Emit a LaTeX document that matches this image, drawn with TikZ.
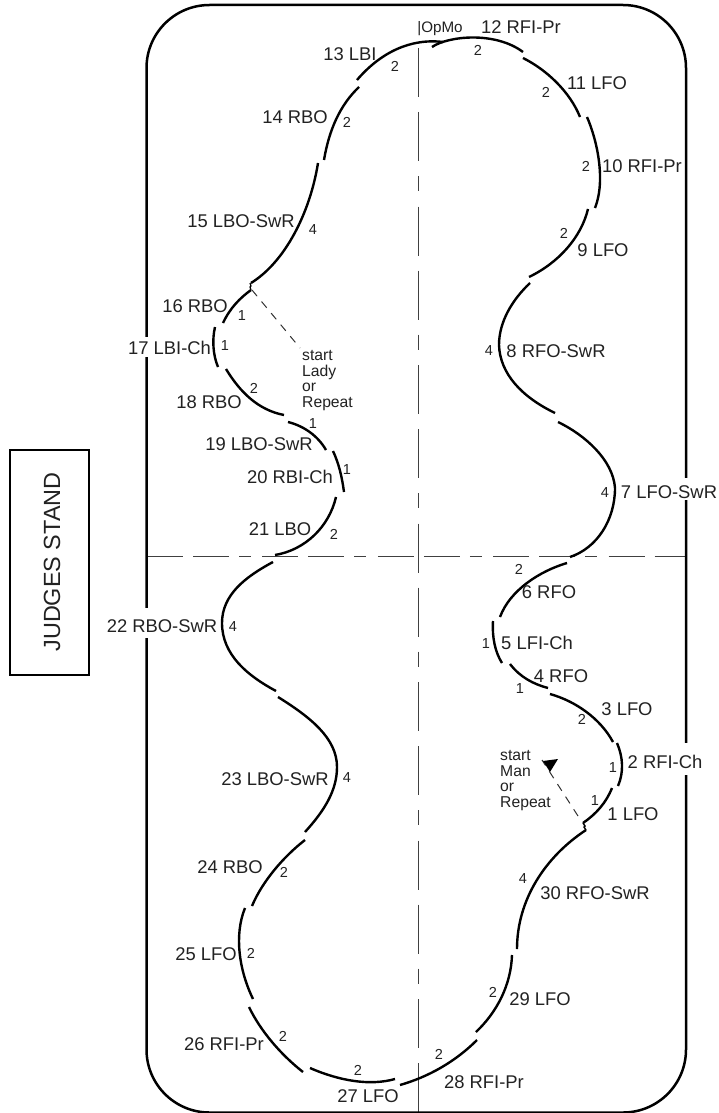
\documentclass[tikz,border=0pt]{standalone}
\usepackage{fontspec}
\setmainfont{Liberation Sans}
\definecolor{ink}{HTML}{222222}
\tikzset{
  rinkline/.style={line width=2.5pt,black},
  axisline/.style={line width=1.2pt,color=black!75},
  edgeline/.style={line width=2.4pt,black},
  leadline/.style={line width=1pt,color=black!80,dash pattern=on 8pt off 7pt},
  lab/.style={anchor=base,inner sep=0pt,text=ink,font=\fontsize{18.4}{18}\selectfont,yshift=-6.5pt},
  beat/.style={anchor=base,inner sep=0pt,text=ink,font=\fontsize{14.5}{14}\selectfont,yshift=-5.2pt},
  note/.style={anchor=north west,inner sep=0pt,align=left,text=ink,font=\fontsize{15.7}{15.8}\selectfont},
  gapmask/.style={fill=white,draw=none}
}
\begin{document}
\begin{tikzpicture}[x=1pt,y=-1pt]
\useasboundingbox (0,0) rectangle (719,1113);
\fill[white] (0,0) rectangle (719,1113);
% centre axes
\draw[axisline,dash pattern=on 49pt off 15pt on 49pt off 15pt on 15pt off 15.5pt] (418.5,48) -- (418.5,1113);
\draw[axisline,dash pattern=on 36pt off 10pt on 36pt off 10pt on 12pt off 11.4pt] (147,556.5) -- (686,556.5);
% rink
\draw[rinkline,rounded corners=63pt] (146.5,5) rectangle (686,1112.5);
\fill[gapmask] (140,337) rectangle (153,357);
\fill[gapmask] (680,478) rectangle (692,500);
\fill[gapmask] (680,743) rectangle (692,775);
\fill[gapmask] (140,608) rectangle (153,638);
% judges stand
\node[draw=black,line width=2.5pt,minimum width=79pt,minimum height=225pt,inner sep=0pt] (stand) at (49.5,562.5) {};
\node[rotate=90,inner sep=0pt,text=ink,font=\fontsize{23.4}{24}\selectfont] (standtext) at (52,562) {JUDGES STAND};
% steps
\draw[edgeline] (357,80) .. controls (380,53) and (410,38) .. (443,42);
\draw[edgeline] (432,47) .. controls (448,36) and (495,31) .. (523,52);
\draw[edgeline] (523,58) .. controls (547,70) and (570,92) .. (580,117);
\draw[edgeline] (587,117) .. controls (597,140) and (606,180) .. (595,208);
\draw[edgeline] (588,209) .. controls (581,238) and (558,263) .. (529,277);
\draw[edgeline] (530,283) .. controls (512,300) and (499,322) .. (499,345) .. controls (500,374) and (522,397) .. (555,413);
\draw[edgeline] (558,422) .. controls (585,435) and (613,460) .. (615,488) .. controls (615,520) and (597,548) .. (570,557);
\draw[edgeline] (567,563) .. controls (540,571) and (510,590) .. (500,617);
\draw[edgeline] (493,621) .. controls (492,637) and (495,652) .. (502,663);
\draw[edgeline] (510,664) .. controls (520,677) and (533,684) .. (548,688);
\draw[edgeline] (550,694) .. controls (575,701) and (600,718) .. (613,742);
\draw[edgeline] (617,743) .. controls (623,757) and (624,772) .. (618,786);
\draw[edgeline] (612,788) .. controls (606,803) and (596,814) .. (583,823);
\draw[line width=1.4pt] (583,823) -- (585,826) -- (584,827) -- (586,830);
\draw[edgeline] (586,830) .. controls (545,857) and (517,900) .. (517,949);
\draw[edgeline] (512,955) .. controls (511,985) and (497,1012) .. (476,1032);
\draw[edgeline] (477,1040) .. controls (455,1062) and (428,1077) .. (400,1085);
\draw[edgeline] (395,1079) .. controls (370,1086) and (340,1081) .. (310,1068);
\draw[edgeline] (303,1072) .. controls (280,1054) and (260,1030) .. (249,1007);
\draw[edgeline] (253,999) .. controls (239,970) and (234,935) .. (245,908);
\draw[edgeline] (252,906) .. controls (262,882) and (283,857) .. (305,840);
\draw[edgeline] (305,832) .. controls (325,810) and (337,790) .. (337,767) .. controls (337,738) and (310,717) .. (278,697);
\draw[edgeline] (276,691) .. controls (248,676) and (222,655) .. (222,623) .. controls (222,595) and (245,577) .. (273,562);
\draw[edgeline] (275,555) .. controls (305,550) and (329,527) .. (336,497);
\draw[edgeline] (344,492) .. controls (342,477) and (339,464) .. (333,451);
\draw[edgeline] (326,450) .. controls (318,436) and (304,426) .. (288,422);
\draw[edgeline] (284,415) .. controls (258,410) and (240,392) .. (226,369);
\draw[edgeline] (218,367) .. controls (213,355) and (212,340) .. (215,327);
\draw[edgeline] (223,323) .. controls (230,308) and (240,298) .. (251,290);
\draw[line width=1.2pt] (251,290) -- (250,287) -- (251,286) -- (250,283);
\draw[edgeline] (251,283) .. controls (285,262) and (310,213) .. (318,163);
\draw[edgeline] (324,160) .. controls (329,130) and (340,105) .. (359,87);
% start leaders
\coordinate (ladyfrom) at (252,290);
\coordinate (ladyto) at (300,348);
\draw[leadline] (ladyfrom) -- (ladyto);
\coordinate (manfrom) at (578,816);
\coordinate (manto) at (542,760);
\draw[leadline] (manfrom) -- (manto);
\fill[black] (543,761) -- (558,759) -- (550,772) -- cycle;
% notes
\node[note] (ladynote) at (302,350) {start\\Lady\\or\\Repeat};
\node[note] (mannote) at (500,750) {start\\Man\\or\\Repeat};
% step labels
\node[anchor=base,inner sep=0pt,text=ink,font=\fontsize{15.2}{16}\selectfont,yshift=-5.4pt] (opmo) at (440,27) {|OpMo};
\node[lab] (l1) at (633,814) {1 LFO};
\node[lab] (l2) at (665,762) {2 RFI-Ch};
\node[lab] (l3) at (627,709) {3 LFO};
\node[lab] (l4) at (561,676) {4 RFO};
\node[lab] (l5) at (537,643) {5 LFI-Ch};
\node[lab] (l6) at (549,592) {6 RFO};
\node[lab] (l7) at (669,492) {7 LFO-SwR};
\node[lab] (l8) at (556,351) {8 RFO-SwR};
\node[lab] (l9) at (603,250) {9 LFO};
\node[lab] (l10) at (642,166) {10 RFI-Pr};
\node[lab] (l11) at (597,83) {11 LFO};
\node[lab] (l12) at (521,27) {12 RFI-Pr};
\node[lab] (l13) at (350,54) {13 LBI};
\node[lab] (l14) at (295,117) {14 RBO};
\node[lab] (l15) at (241,221) {15 LBO-SwR};
\node[lab] (l16) at (195,306) {16 RBO};
\node[lab] (l17) at (169.5,348) {17 LBI-Ch};
\node[lab] (l18) at (209,402) {18 RBO};
\node[lab] (l19) at (259,444) {19 LBO-SwR};
\node[lab] (l20) at (290,477) {20 RBI-Ch};
\node[lab] (l21) at (280,529) {21 LBO};
\node[lab] (l22) at (162,626) {22 RBO-SwR};
\node[lab] (l23) at (275,779) {23 LBO-SwR};
\node[lab] (l24) at (230,867) {24 RBO};
\node[lab] (l25) at (206,954) {25 LFO};
\node[lab] (l26) at (224,1044) {26 RFI-Pr};
\node[lab] (l27) at (368,1096) {27 LFO};
\node[lab] (l28) at (484,1082) {28 RFI-Pr};
\node[lab] (l29) at (540,999) {29 LFO};
\node[lab] (l30) at (595,893) {30 RFO-SwR};
% beats
\node[beat] (b1) at (595,800) {1};
\node[beat] (b2) at (613,767) {1};
\node[beat] (b3) at (582,719) {2};
\node[beat] (b4) at (520,688) {1};
\node[beat] (b5) at (486,643) {1};
\node[beat] (b6) at (519,569) {2};
\node[beat] (b7) at (605,492) {4};
\node[beat] (b8) at (489,350) {4};
\node[beat] (b9) at (564,233) {2};
\node[beat] (b10) at (586,166) {2};
\node[beat] (b11) at (546,92) {2};
\node[beat] (b12) at (478,50) {2};
\node[beat] (b13) at (395,66) {2};
\node[beat] (b14) at (347,122) {2};
\node[beat] (b15) at (313,229) {4};
\node[beat] (b16) at (242,315) {1};
\node[beat] (b17) at (225,345) {1};
\node[beat] (b18) at (254,388) {2};
\node[beat] (b19) at (313,423) {1};
\node[beat] (b20) at (347,469) {1};
\node[beat] (b21) at (334,534) {2};
\node[beat] (b22) at (233,626) {4};
\node[beat] (b23) at (347,777) {4};
\node[beat] (b24) at (284,872) {2};
\node[beat] (b25) at (251,953) {2};
\node[beat] (b26) at (283,1036) {2};
\node[beat] (b27) at (358,1070) {2};
\node[beat] (b28) at (439,1054) {2};
\node[beat] (b29) at (493,992) {2};
\node[beat] (b30) at (523,878) {4};
\end{tikzpicture}
\end{document}
